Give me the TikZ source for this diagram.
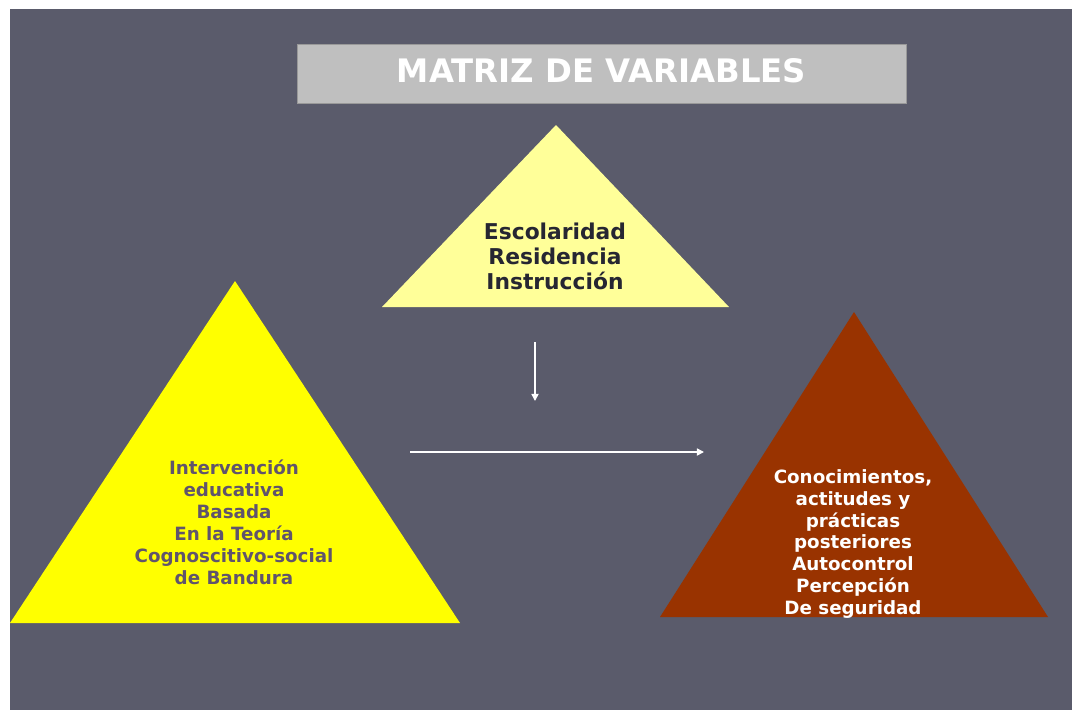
\documentclass[tikz,border=0pt]{standalone}
\usepackage{fontspec}
\setmainfont{DejaVu Sans}
\usetikzlibrary{arrows.meta,positioning}
\definecolor{pizarra}{RGB}{90,91,107}
\definecolor{amarilloclaro}{RGB}{255,255,153}
\definecolor{amarillo}{RGB}{255,255,0}
\definecolor{ladrillo}{RGB}{153,51,0}
\definecolor{textooscuro}{RGB}{38,38,50}
\definecolor{textomorado}{RGB}{96,84,108}
\tikzset{
    titulo/.style={
        rectangle,
        fill=black!25,
        draw=black!40,
        thin,
        text=white,
        minimum width=15.225cm,
        minimum height=1.475cm,
        font=\bfseries\fontsize{23}{27}\selectfont
    },
    etiqueta/.style={
        align=center,
        inner sep=0pt,
        font=\bfseries\fontsize{13}{15.6}\selectfont
    },
    flecha/.style={
        draw=white,
        line width=1.1pt,
        -{Triangle[length=5pt,width=5pt]}
    }
}

\begin{document}
\begin{tikzpicture}[x=0.025cm,y=-0.025cm]
    \useasboundingbox (0,0) rectangle (1072,710);
    \fill[white] (0,0) rectangle (1072,710);
    \fill[pizarra] (10,9) rectangle (1072,710);
    % titulo
    \node [titulo] (tit) at (601.5,73.5) {\raisebox{4pt}{MATRIZ DE VARIABLES}};
    % triangulos
    \fill[amarilloclaro] (556,125) -- (729,307) -- (382,307) -- cycle;
    \fill[amarillo] (235,281) -- (460,623) -- (10,623) -- cycle;
    \fill[ladrillo] (854,312) -- (1048,617) -- (660,617) -- cycle;
    \node [etiqueta,text=textooscuro,font=\bfseries\fontsize{15.5}{17.8}\selectfont] (esc) at (555,256)
        {Escolaridad\\Residencia\\Instrucción};
    \node [etiqueta,text=textomorado] (int) at (234,522)
        {Intervención\\educativa\\Basada\\En la Teoría\\Cognoscitivo-social\\de Bandura};
    \node [etiqueta,text=white] (con) at (853,544)
        {Conocimientos,\\actitudes y\\prácticas\\posteriores\\Autocontrol\\Percepción\\De seguridad};
    % flechas
    \coordinate (v1) at (535,342);
    \coordinate (v2) at (535,401);
    \coordinate (h1) at (410,452);
    \coordinate (h2) at (704,452);
    \draw [flecha] (v1) -- (v2);
    \draw [flecha] (h1) -- (h2);
\end{tikzpicture}
\end{document}
